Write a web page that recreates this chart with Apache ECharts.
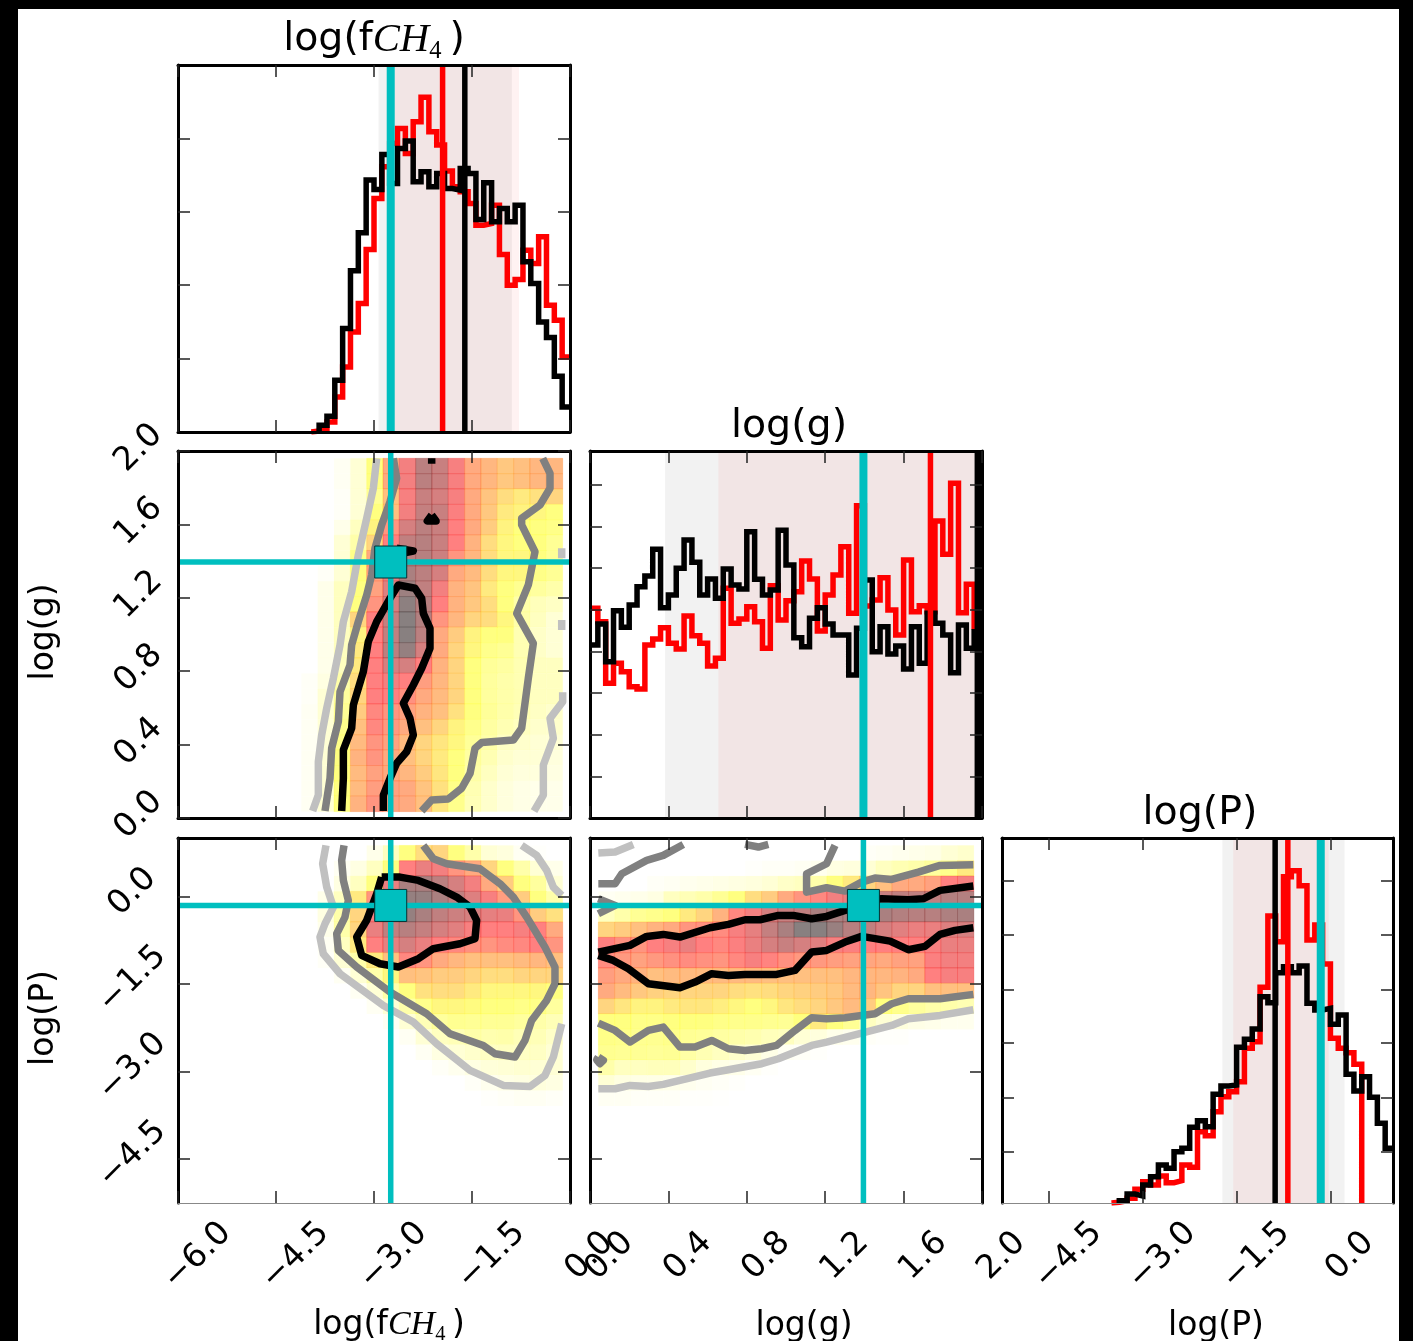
<!DOCTYPE html>
<html><head><meta charset="utf-8">
<style>html,body{margin:0;padding:0;background:#000}#c{width:1413px;height:1341px}</style>
<script src="https://cdn.jsdelivr.net/npm/echarts@6/dist/echarts.min.js"></script>
</head><body><div id="c"></div>
<script>
// ---------- histogram heights (axis units, one bin per entry) ----------
const fch4Black=[0,0,0,0,0,0,0,0,0,0,0,0,0,0,0,0,0,0,20,47,155,310,483,597,755,727,832,745,850,872,750,780,735,775,730,725,790,775,637,747,630,670,630,680,510,445,330,283,167,75];
const fch4Red=[0,0,0,0,0,0,0,0,0,0,0,0,0,0,0,0,0,3,5,30,105,195,300,385,547,700,795,865,910,835,930,1003,900,860,782,735,720,685,620,625,680,532,440,457,545,505,585,380,335,225];
const gBlack=[519,582,469,622,572,639,694,726,806,631,669,749,834,767,669,717,659,747,699,687,859,716,669,684,863,759,541,514,599,631,582,549,549,429,569,714,499,574,492,516,447,574,464,614,584,549,436,579,509,559];
const gRed=[629,589,404,464,439,394,387,519,537,571,524,507,606,547,524,456,479,689,584,597,634,589,509,697,594,652,679,771,717,561,669,729,814,614,937,636,654,721,624,549,774,619,637,619,891,791,1004,616,701,574];
const pBlack=[0,0,0,0,0,0,0,0,0,0,0,0,0,0,0,7,27,21,54,79,114,104,154,164,227,247,229,326,351,354,467,491,522,619,601,691,709,691,711,599,579,584,536,564,386,336,379,317,239,164];
const pRed=[0,0,0,0,0,0,0,0,0,0,0,0,0,0,2,7,14,41,64,54,81,61,67,114,107,214,202,274,319,334,364,464,484,647,861,784,979,997,952,789,834,717,494,464,451,416,0,0,0,0];

// ---------- reference values ----------
const fch4Range=[-6,0], gRange=[0,2], pRange=[-5.25,1];
const truth={fch4:-2.744,g:1.395,p:-0.155};
const medians={fch4:{red:-1.95,black:-1.61},g:{red:1.737,black:1.98},p:{red:-0.681,black:-0.884}};
const bands={fch4:{grey:[-2.93,-0.89],red:[-2.75,-0.78]},g:{grey:[0.383,1.97],red:[0.655,1.97]},p:{grey:[-1.727,0.225],red:[-1.555,-0.027]}};

// ---------- tick values ----------
const fch4Ticks=[-6,-4.5,-3,-1.5,0];
const gTicks=[0,0.4,0.8,1.2,1.6,2];
const pXTicks=[-4.5,-3,-1.5,0];
const pYTicks=[0,-1.5,-3,-4.5];
const hist1Ticks=[220,440,660,880];
const hist2Ticks=[125,250,375,500,625,750,875,1000];
const hist3Ticks=[154,317,480,641,804,967];

// ---------- 2-D density levels (0 empty .. 9 peak), rows top to bottom ----------
const cellsGF=[
[0,0,.3,1,3,5,6.3,7.6,7.3,6.2,5,4.7,4.3,4.5,4.7,4.7],
[0,0,.3,1,3,5,6.3,7.6,7.3,6.2,5,4.7,4.3,4.5,4.7,4.7],
[0,0,.2,1,2.5,4.5,6.2,7.3,7,6.2,5,4.4,3.8,3.5,3.7,4],
[0,0,.2,1,3,4.5,6.3,7.4,7.3,6.1,5,4.3,3.5,3.3,3.2,3],
[0,0,.5,1.5,3.3,5.5,7,7.6,7.3,6,5,4.2,3.3,3,3,2.8],
[0,0,1,2,4,6,7.5,7.7,7.3,6,4.8,3.8,3.2,3,3,2.5],
[0,0,1,2.8,5,6.3,7.6,7.7,7.2,5.5,4.7,3.8,3.2,3.2,3,2.5],
[0,.2,1,3,5.2,6.5,8,7.6,7,5,4.6,3.8,3.2,3.2,2.8,2.5],
[0,.5,1.5,3,5.2,6.8,8.3,7.5,6.3,4.8,4.4,3.5,3,2.6,2.3,2],
[0,.5,1.5,3,5.5,7,8.7,7.7,6,4.8,4.3,3.8,3,2,1.6,1.4],
[0,.5,1.5,4,6,7.4,8.8,7.8,5.5,4.7,4,3.8,3.2,2,1.5,1],
[0,.5,1.5,3.3,6,7.5,8.8,7.6,5,4.2,3.3,3,3,1.8,1.3,1],
[0,.5,1.5,3.5,6,7.6,8.5,7,5,4,3.2,2.7,2.5,1.8,1.3,1],
[0,.5,1.5,3.5,6,7,7,6,4.8,4,3,2.4,2.2,1.8,1.5,1.5],
[.2,.7,2,3.8,6,6.3,6,5.3,4.7,4,3,2.3,2,1.8,1.5,1.5],
[.2,1,2.3,4,6,6,5.6,5,4.6,4,3,2.3,2,1.8,1.5,1.5],
[.3,1,2.5,4.2,5.8,5.5,5.2,4.8,4.5,3.7,3,2.4,2,1.7,1.4,1.2],
[.3,1,2.7,4.5,5.8,5.4,5,4.5,4,3.3,2.7,2.2,1.8,1.5,1.2,1.2],
[.3,1,2.8,4.6,5.5,5.2,4.6,4,3.6,3.2,2.4,2,1.4,1.2,1,1],
[.3,1,3,4.8,5.5,5,4.5,4,3.5,3,2.2,1.8,1.2,1,1,.8],
[.3,1,3,4.6,5.2,5,4.7,4.2,3.6,3,2,1.5,1,.8,.8,.7],
[.3,1,3,4.6,5.3,5.2,5,4.4,3.7,2.8,1.8,1.2,.8,.6,.5,.5],
[.3,1,3,4.8,5.5,5.2,5,4.5,3.6,2.7,1.7,1.2,.8,.6,.5,.5]];
const cellsPF=[
[0,0,0,0,.5,1.5,3,3.8,4,3,2,1,.8,.3,.1,0],
[0,0,.3,.7,1.5,3,6,6.5,6.3,5.5,5,4,3,2,1,.5],
[0,0,.7,1.5,3,6.5,8,8,7.6,7,6.3,5,4.2,3,2.3,1],
[0,.5,1.5,3.5,5.5,7.5,8.5,8.5,8,7.5,6.8,6.2,5.3,4.2,3,2],
[0,.7,2,4,6.2,8,8.5,8,7.5,7.2,7,6.6,6.5,5.5,4.2,3.7],
[0,.5,2,4,6.5,7.5,7.7,7.4,7,6.7,6.2,6,6,6.2,6,5],
[0,.3,1.5,3.5,6,6.6,7,6.5,6,5.8,5.6,5.5,5.7,5.8,6,5.5],
[0,.2,1,2,3.5,4.5,5.8,5.5,5,4.7,4.5,4.5,4.5,4.6,4.7,4.5],
[0,0,.3,1,2,3.2,4.5,4.4,4.2,4.2,4,3.8,3.8,4,4,4],
[0,0,0,.3,1,2,3,3.7,3.8,3.8,3.5,3.2,3.2,3.2,3.2,3],
[0,0,0,0,.3,1,2,2.7,3.2,3.2,3.1,3,3,2.8,2.8,2.3],
[0,0,0,0,0,.3,1,1.7,2.3,2.6,2.5,2.5,2.5,2.3,2,1.7],
[0,0,0,0,0,0,.3,1,1.5,1.7,2,1.9,2,1.7,1.7,1.3],
[0,0,0,0,0,0,0,.3,.7,1,1.2,1.4,1.5,1.4,1.4,1],
[0,0,0,0,0,0,0,0,.2,.4,.7,.9,1,1.1,1,1],
[0,0,0,0,0,0,0,0,0,0,.2,.4,.6,.7,.8,.7],
[0,0,0,0,0,0,0,0,0,0,0,.1,.2,.3,.3,.2]];
const cellsPG=[
[0,0,0,0,0,0,0,0,0,0,0,0,0,0,0,0,.2,.3,.4,.5,.6,1,1.2],
[0,0,0,0,0,0,0,0,0,.1,.2,.2,.3,.4,.7,.8,1,1.5,1.8,2,2.3,2.7,3.5],
[0,0,0,.2,.3,.4,.5,.6,.7,.8,1,1.3,1.5,2,3,3.5,4,4.5,5,5,5.2,6,6.2],
[.3,.4,.5,.7,1.5,1.7,2,2.5,3,3.8,4.2,5,5.5,5.8,6.3,6.6,7,7.3,7.5,7.5,7.5,7.8,7.8],
[1.5,2,2.5,2.7,3,3.5,4,4.8,5.8,6.3,7,7.3,7.5,8,8,8,8,8,7.8,7.7,7.7,7.9,8],
[4,4.2,4.5,4.8,5,5.5,5.6,5.7,6.2,6.6,7.4,8,8.8,8.8,8.4,7.7,7.5,7,6.7,6.5,6.5,6.8,7],
[6,5.6,5.5,6,6.2,6.5,6,5.8,6.1,6.5,7,7.3,7,6.7,6.2,6.1,6,6,6,6,6.2,6.5,6.5],
[5.7,5.4,5.2,5.4,5.6,5.7,5.6,5.5,5.8,6.2,5.9,5.6,5.4,5.4,5.3,5.2,5.1,5,5.2,5.2,6.1,6.3,6.3],
[5.3,5,4.8,4.5,4.6,4.6,4.6,4.6,4.6,4.6,4.5,4.5,4.5,4.5,4.5,4.7,4.7,4.7,4.8,5,6,6.2,6.2],
[5,4.6,4.3,4.1,4,4,4,4,3.8,3.7,3.8,4,4.1,4.2,4.3,4.6,4.7,4.4,4,4,4.5,4.5,4.5],
[4,3.6,3.3,3.3,3.5,3.6,3.6,3.4,3.2,3,3.2,3.6,3.8,4,4.3,4.6,4.2,3,2.7,2.3,2,2,1.8],
[3,3,2.8,2.8,3,3,3,2.8,2.7,2.7,2.6,2.5,3,3.5,3,2.5,1.5,1,.8,.6,.5,.4,.4],
[2.8,2.7,2.6,2.6,2.7,2.5,2.4,2.2,2,1.9,1.6,1.5,1,.8,.5,.4,.2,.1,.1,0,0,0,0],
[2.6,2.5,2.5,2.4,2.5,2.1,1.8,1.5,1.2,1,.6,.3,.2,.1,0,0,0,0,0,0,0,0,0],
[2,1.5,1.5,1.6,1.6,1.2,.8,.6,.5,.3,.1,0,0,0,0,0,0,0,0,0,0,0,0],
[1,.7,.6,.6,.5,.4,.3,.2,.1,0,0,0,0,0,0,0,0,0,0,0,0,0,0],
[.3,.3,.2,.2,.2,.1,.1,.05,0,0,0,0,0,0,0,0,0,0,0,0,0,0,0]];
const gridGF={x0:-4.112,dx:0.25,y0:1.96,dy:0.0837};
const gridPF={x0:-4.112,dx:0.25,y0:0.873,dy:0.2625};
const gridPG={x0:0.0425,dx:0.0833,y0:0.873,dy:0.2625};

// ---------- contours, data coordinates ----------
const gfBlack=[[[-3.495,.038],[-3.469,.216],[-3.469,.371],[-3.342,.489],[-3.316,.616],[-3.163,.798],[-3.087,.961],[-2.959,1.07],[-2.755,1.197],[-2.628,1.27],[-2.372,1.252],[-2.27,1.197],[-2.245,1.115],[-2.143,1.034],[-2.143,.925],[-2.27,.816],[-2.398,.725],[-2.551,.625],[-2.449,.543],[-2.398,.452],[-2.5,.361],[-2.653,.298],[-2.755,.216],[-2.857,.125],[-2.857,.038]],
[[-2.117,1.96],[-2.117,1.93]],[[-2.117,1.651],[-2.184,1.619],[-2.05,1.619],[-2.117,1.651]],[[-2.653,1.47],[-2.398,1.455],[-2.653,1.437]]];
const gfGrey=[[[-3.75,.038],[-3.673,.216],[-3.648,.38],[-3.546,.525],[-3.52,.688],[-3.367,.834],[-3.342,.943],[-3.24,1.07],[-3.112,1.215],[-3.036,1.324],[-2.985,1.47],[-2.883,1.597],[-2.755,1.724],[-2.653,1.851],[-2.704,1.96]],
[[-2.27,.038],[-2.117,.098],[-1.862,.104],[-1.658,.162],[-1.53,.243],[-1.454,.38],[-1.352,.411],[-.867,.425],[-.74,.489],[-.638,.761],[-.561,.952],[-.816,1.115],[-.638,1.27],[-.536,1.451],[-.74,1.597],[-.74,1.633],[-.459,1.706],[-.306,1.797],[-.306,1.878],[-.418,1.96]]];
const gfLight=[[[-3.939,.038],[-3.852,.125],[-3.852,.307],[-3.801,.452],[-3.724,.598],[-3.622,.761],[-3.52,.943],[-3.469,1.07],[-3.342,1.233],[-3.24,1.433],[-3.112,1.633],[-3.01,1.797],[-2.959,1.96]],
[[-.551,.038],[-.408,.125],[-.408,.289],[-.255,.434],[-.306,.543],[-.112,.634],[-.112,.685]],
[[-.127,1.47],[-.127,1.415]],[[-.127,1.079],[-.127,1.024]]];
const pfBlack=[[[-2.883,.331],[-2.602,.331],[-2.321,.274],[-1.99,.131],[-1.735,-.012],[-1.53,-.183],[-1.429,-.411],[-1.454,-.725],[-1.684,-.811],[-2.092,-.896],[-2.321,-1.067],[-2.628,-1.21],[-2.908,-1.153],[-3.189,-1.01],[-3.265,-.696],[-3.112,-.411],[-2.959,.046],[-2.883,.331]]];
const pfGrey=[[[-3.459,.873],[-3.495,.616],[-3.469,.274],[-3.393,-.069],[-3.444,-.354],[-3.571,-.639],[-3.546,-.925],[-3.265,-1.21],[-2.755,-1.638],[-2.194,-2.009],[-1.837,-2.352],[-1.327,-2.552],[-1.148,-2.694],[-.842,-2.751],[-.689,-2.466],[-.587,-2.123],[-.357,-1.781],[-.23,-1.496],[-.23,-1.21],[-.383,-.868],[-.663,-.354],[-.867,-.012],[-1.071,.217],[-1.378,.474],[-1.888,.559],[-2.092,.645],[-2.245,.873]]];
const pfLight=[[[-3.735,.873],[-3.786,.559],[-3.724,.16],[-3.622,-.183],[-3.75,-.468],[-3.827,-.696],[-3.776,-.982],[-3.52,-1.324],[-2.857,-1.867],[-2.398,-2.152],[-2.041,-2.523],[-1.53,-2.98],[-1.02,-3.236],[-.612,-3.254],[-.383,-3.065],[-.255,-2.751],[-.127,-2.181]],
[[-.74,.873],[-.51,.702],[-.357,.445],[-.255,.16],[-.127,.017]]];
const pgBlack=[[[.0425,-.953],[.204,-.839],[.289,-.685],[.374,-.651],[.459,-.696],[.612,-.537],[.706,-.48],[.791,-.4],[.867,-.4],[.961,-.325],[1.037,-.325],[1.131,-.383],[1.207,-.343],[1.301,-.24],[1.386,-.126],[1.488,-.04],[1.624,-.057],[1.701,-.04],[1.786,.103],[1.956,.177]],
[[.0425,-1.01],[.119,-1.096],[.196,-1.239],[.298,-1.496],[.459,-1.564],[.536,-1.467],[.621,-1.324],[.706,-1.353],[.791,-1.336],[.952,-1.336],[1.046,-1.267],[1.131,-.953],[1.207,-.925],[1.301,-.782],[1.386,-.685],[1.531,-.765],[1.624,-.913],[1.709,-.856],[1.786,-.651],[1.862,-.582],[1.956,-.537]]];
const pgGrey=[[[1.956,.542],[1.786,.531],[1.675,.417],[1.539,.291],[1.454,.314],[1.386,.245],[1.301,.091],[1.207,.148],[1.105,.074],[1.105,.388],[1.207,.559],[1.25,.873]],
[[.791,.89],[.859,.845],[.91,.89]],
[[.0425,.217],[.128,.217],[.162,.388],[.289,.616],[.374,.702],[.476,.89]],
[[.0425,-.04],[.128,-.154],[.0425,-.297]],
[[.0425,-2.751],[.068,-2.808],[.051,-2.865],[.034,-2.797],[.0425,-2.751]],
[[.0425,-2.169],[.128,-2.295],[.204,-2.494],[.298,-2.295],[.374,-2.238],[.459,-2.58],[.536,-2.58],[.621,-2.466],[.706,-2.609],[.791,-2.637],[.876,-2.609],[.952,-2.551],[1.046,-2.295],[1.131,-2.078],[1.207,-2.095],[1.301,-2.078],[1.386,-2.038],[1.454,-2.009],[1.539,-1.838],[1.624,-1.752],[1.786,-1.752],[1.956,-1.678]]];
const pgLight=[[[.0425,-3.294],[.128,-3.294],[.204,-3.236],[.298,-3.254],[.374,-3.219],[.459,-3.151],[.612,-3.025],[.706,-2.968],[.876,-2.865],[.961,-2.78],[1.131,-2.552],[1.207,-2.494],[1.386,-2.34],[1.539,-2.209],[1.624,-2.095],[1.786,-2.038],[1.956,-1.941]],
[[.0425,.742],[.128,.759],[.221,.89]]];

// ---------- look ----------
const CYAN='#00bfbf', FONT='"DejaVu Sans"';
const LIGHT='#c0c0c0', GREY='#808080', BLACK='#000';
const lay={cols:[[178,392],[590,392],[1002,391]],rows:[[65,367],[451,367],[838,365]]};

const grids=[],xAxes=[],yAxes=[],series=[];
const fmt=v=>v.toFixed(1).replace('-','\u2212');

function panel(c,r,xRange,yRange,xT,yT,opt){
  const gi=grids.length;
  grids.push({left:lay.cols[c][0],width:lay.cols[c][1],top:lay.rows[r][0],height:lay.rows[r][1],containLabel:false});
  const line={show:true,onZero:false,lineStyle:{color:'#000',width:3}};
  const tick=v=>({show:true,inside:true,length:12,lineStyle:{color:'#222',width:1.5},customValues:v});
  const axis=(pos,range,ticks,extra)=>Object.assign({gridIndex:gi,type:'value',position:pos,min:range[0],max:range[1],z:5,
    splitLine:{show:false},axisLine:line,axisTick:tick(ticks),axisLabel:{show:false}},extra||{});
  const xi=xAxes.length, yi=yAxes.length;
  xAxes.push(axis('bottom',xRange,xT,opt.xLabels?{
    axisLine:{show:true,onZero:false,lineStyle:{color:'#888',width:1}},
    axisLabel:{show:true,customValues:opt.xLabels,formatter:fmt,rotate:45,align:'center',verticalAlign:'middle',
      margin:73,padding:[0,0,0,56],fontFamily:FONT,fontSize:33,color:'#000',hideOverlap:false}}:null));
  xAxes.push(axis('top',xRange,xT));
  yAxes.push(axis('left',yRange,yT,opt.yLabels?{
    axisLabel:{show:true,customValues:opt.yLabels,formatter:fmt,rotate:45,align:'center',verticalAlign:'middle',
      margin:opt.yMargin,padding:[0,0,0,opt.yPad],fontFamily:FONT,fontSize:33,color:'#000',hideOverlap:false}}:null));
  yAxes.push(axis('right',yRange,yT));
  return {xAxisIndex:xi,yAxisIndex:yi,xRange,yRange};
}
function lineS(p,data,color,width,extra){
  series.push(Object.assign({type:'line',xAxisIndex:p.xAxisIndex,yAxisIndex:p.yAxisIndex,data,symbol:'none',silent:true,
    clip:true,lineStyle:{color,width,cap:'butt',join:'round'}},extra||{}));
}
function vline(p,x,color,w){lineS(p,[[x,p.yRange[0]],[x,p.yRange[1]]],color,w);}
function hline(p,y,color,w){lineS(p,[[p.xRange[0],y],[p.xRange[1],y]],color,w);}
function band(p,range,color){
  series.push({type:'custom',xAxisIndex:p.xAxisIndex,yAxisIndex:p.yAxisIndex,data:[range],silent:true,clip:true,
    renderItem:(params,api)=>{const a=api.coord([api.value(0),p.yRange[1]]),b=api.coord([api.value(1),p.yRange[0]]);
      return {type:'rect',shape:{x:a[0],y:a[1],width:b[0]-a[0],height:b[1]-a[1]},style:{fill:color}};}});
}
function stepData(values,xmin,binW){
  let f=values.findIndex(v=>v>0), l=values.length-1; while(values[l]===0)l--;
  const pts=f>0?[[xmin+f*binW,0]]:[];
  for(let i=f;i<=l;i++)pts.push([xmin+i*binW,values[i]]);
  pts.push([xmin+(l+1)*binW,l===values.length-1?values[l]:0]);
  return pts;
}
function hist(p,red,black,binW,key,truthX,blackW){
  band(p,bands[key].grey,'rgba(128,128,128,0.1)');
  band(p,bands[key].red,'rgba(255,0,0,0.05)');
  const st=(v,col)=>lineS(p,stepData(v,p.xRange[0],binW),col,5.5,{step:'end',lineStyle:{color:col,width:5.5,cap:'butt',join:'miter'}});
  st(red,'#f00'); st(black,'#000');
  vline(p,medians[key].red,'#f00',5.5);
  vline(p,medians[key].black,'#000',blackW||5.5);
  vline(p,truthX,CYAN,8);
}
function mix(l){
  // hot_r colour at level l (0..9)
  const t=Math.max(0,Math.min(9,l));
  if(t<3)return [255,255,255*(1-t/3)];
  if(t<6)return [255,255*(1-(t-3)/3),0];
  return [255*(1-(t-6)/3),0,0];
}
function heat(p,rows,g){
  const data=[];
  rows.forEach((row,i)=>row.forEach((l,j)=>{ if(l>0)data.push([g.x0+j*g.dx,g.y0-i*g.dy,g.x0+(j+1)*g.dx,g.y0-(i+1)*g.dy,l]); }));
  series.push({type:'custom',xAxisIndex:p.xAxisIndex,yAxisIndex:p.yAxisIndex,data,silent:true,clip:true,
    renderItem:(params,api)=>{
      const a=api.coord([api.value(0),api.value(1)]),b=api.coord([api.value(2),api.value(3)]);
      const c=mix(api.value(4)).map(Math.round);
      const fill=`rgb(${c.map(v=>Math.round(v*.5+127.5)).join(',')})`;
      const edge=`rgba(${c.join(',')},${Math.min(.32,api.value(4)/12)})`;
      return {type:'rect',shape:{x:a[0],y:a[1],width:b[0]-a[0],height:b[1]-a[1]},style:{fill,stroke:edge,lineWidth:.8}};
    }});
}
function contours(p,light,grey,black){
  light.forEach(d=>lineS(p,d,LIGHT,7.5));
  grey.forEach(d=>lineS(p,d,GREY,7.5));
  black.forEach(d=>lineS(p,d,BLACK,7.5));
}
function cross(p,x,y){
  vline(p,x,CYAN,5.5); hline(p,y,CYAN,5.5);
  series.push({type:'scatter',xAxisIndex:p.xAxisIndex,yAxisIndex:p.yAxisIndex,data:[[x,y]],symbol:'rect',symbolSize:32,silent:true,
    itemStyle:{color:CYAN,borderColor:'#033',borderWidth:1,opacity:1},z:3});
}

// row 1
const p1=panel(0,0,fch4Range,[0,1100],fch4Ticks,hist1Ticks,{});
hist(p1,fch4Red,fch4Black,0.12,'fch4',truth.fch4);
// row 2
const p2=panel(0,1,fch4Range,gRange,fch4Ticks,gTicks,{yLabels:gTicks,yMargin:42,yPad:8});
heat(p2,cellsGF,gridGF); contours(p2,gfLight,gfGrey,gfBlack); cross(p2,truth.fch4,truth.g);
const p3=panel(1,1,gRange,[0,1101],gTicks,hist2Ticks,{});
hist(p3,gRed,gBlack,0.04,'g',truth.g,7);
// row 3
const p4=panel(0,2,fch4Range,pRange,fch4Ticks,pYTicks,{xLabels:fch4Ticks,yLabels:pYTicks,yMargin:50,yPad:13});
heat(p4,cellsPF,gridPF); contours(p4,pfLight,pfGrey,pfBlack); cross(p4,truth.fch4,truth.p);
const p5=panel(1,2,gRange,pRange,gTicks,pYTicks,{xLabels:gTicks});
heat(p5,cellsPG,gridPG); contours(p5,pgLight,pgGrey,pgBlack); cross(p5,truth.g,truth.p);
const p6=panel(2,2,pRange,[0,1095],pXTicks,hist3Ticks,{xLabels:pXTicks});
hist(p6,pRed,pBlack,0.125,'p',truth.p);

// ---------- text ----------
const rich=size=>({a:{fontFamily:FONT,fontSize:size,color:'#000'},
  b:{fontFamily:'"Liberation Serif"',fontStyle:'italic',fontSize:size*1.03,color:'#000'},
  s:{fontFamily:'"Liberation Serif"',fontSize:size*.62,color:'#000',padding:[size*.6,0,0,0]}});
const fch4Text='{a|log(f}{b|CH}{s|4}{a|\u2009)}';
function label(text,x,y,size,rot){
  return {type:'text',x,y,rotation:rot||0,z:20,style:{text,rich:rich(size),fontFamily:FONT,fontSize:size,fill:'#000',align:'center',verticalAlign:'middle'}};
}
const graphic=[
  {type:'rect',z:-100,shape:{x:18,y:9,width:1381,height:1332},style:{fill:'#fff'}},
  label(fch4Text,374,40,39.5),label('log(g)',789,427,39.5),label('log(P)',1200,814,39.5),
  label(fch4Text,389,1325,33),label('log(g)',804,1326,33),label('log(P)',1216,1326,33),
  label('log(g)',44,632,33,Math.PI/2),label('log(P)',44,1018,33,Math.PI/2)
];
const chart=echarts.init(document.getElementById('c'),null,{renderer:'canvas'});
chart.setOption({animation:false,backgroundColor:'#000',grid:grids,xAxis:xAxes,yAxis:yAxes,series,graphic,tooltip:{show:false}});
</script></body></html>
